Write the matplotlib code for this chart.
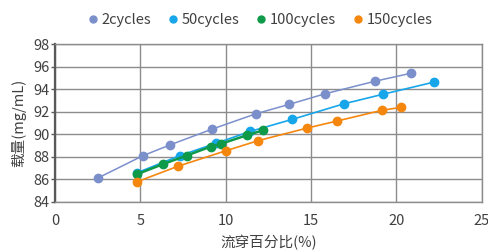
import matplotlib
matplotlib.use("Agg")
import matplotlib.pyplot as plt

plt.rcParams['font.family'] = ['Noto Sans CJK SC', 'DejaVu Sans']

# data
x_2 = [2.5, 5.14, 6.76, 9.22, 11.79, 13.73, 15.8, 18.73, 20.86]
y_2 = [86.09, 88.08, 89.06, 90.46, 91.83, 92.66, 93.59, 94.71, 95.43]
x_50 = [4.78, 7.32, 9.45, 11.44, 13.9, 16.91, 19.2, 22.18]
y_50 = [86.55, 88.1, 89.2, 90.25, 91.32, 92.7, 93.55, 94.63]
x_100 = [4.78, 6.35, 7.71, 9.14, 9.71, 11.23, 12.2]
y_100 = [86.42, 87.35, 88.1, 88.9, 89.14, 89.9, 90.35]
x_150 = [4.78, 7.21, 10.02, 11.89, 14.78, 16.54, 19.16, 20.3]
y_150 = [85.75, 87.15, 88.53, 89.42, 90.55, 91.18, 92.13, 92.4]

series = [
    ('2cycles', x_2, y_2, '#7b8fcb', 1.1),
    ('50cycles', x_50, y_50, '#17a6ea', 1.2),
    ('100cycles', x_100, y_100, '#0e9a48', 1.8),
    ('150cycles', x_150, y_150, '#f5870f', 1.2),
]

text_col = '#404040'
grid_col = '#8c8c8c'

fig = plt.figure(figsize=(4.89, 2.52), dpi=100)
ax = fig.add_axes([0.1125, 0.2, 0.8725, 0.624])

for name, xs, ys, col, lw in series:
    ax.plot(xs, ys, color=col, lw=lw, marker='o', markersize=6, label=name)

ax.set_xlim(0, 25)
ax.set_ylim(84, 98)
ax.set_xticks(range(0, 26, 5))
ax.set_yticks(range(84, 99, 2))
ax.grid(True, color=grid_col, lw=1)
ax.set_axisbelow(True)
for s in ['top', 'right', 'bottom']:
    ax.spines[s].set_color(grid_col)
    ax.spines[s].set_linewidth(1)
ax.spines['left'].set_color('#595959')
ax.spines['left'].set_linewidth(1.6)
ax.tick_params(axis='y', length=3, width=1, color='#595959', labelsize=10.5, labelcolor=text_col, pad=1)
ax.tick_params(axis='x', length=0, labelsize=10.5, labelcolor=text_col, pad=9)

ax.set_xlabel('流穿百分比(%)', fontsize=10.5, color=text_col, labelpad=5)
ax.set_ylabel('载量(mg/mL)', fontsize=10.5, color=text_col, labelpad=5)

handles = [plt.Line2D([], [], color=c, marker='o', ls='', markersize=5) for _, _, _, c, _ in series]
fig.legend(handles, [s[0] for s in series], loc='upper center', bbox_to_anchor=(0.53, 1.0),
           ncol=4, frameon=False, fontsize=10.5, handletextpad=0.1, columnspacing=1.0,
           labelcolor=text_col, handlelength=1.0)

fig.savefig('out.png', dpi=100)
